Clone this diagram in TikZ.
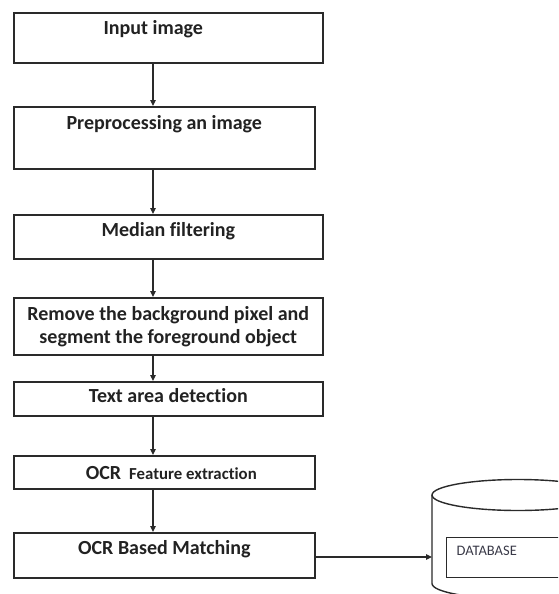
\documentclass[tikz,border=0pt]{standalone}
\usepackage{fontspec}
\setmainfont{Carlito}[Ligatures=NoCommon]
\usetikzlibrary{arrows.meta}
\definecolor{lc}{HTML}{2A2A2A}
\definecolor{tc}{HTML}{222222}
\definecolor{dbt}{HTML}{3A3A48}

\begin{document}
\begin{tikzpicture}[x=1pt,y=-1pt,
	stepbox/.style={draw=lc, line width=1.6pt, anchor=north west, inner xsep=0pt, inner ysep=0pt,
		text=tc, font=\fontsize{20}{24}\selectfont\bfseries},
	flow/.style={draw=lc, line width=1.2pt, -{Triangle[length=6pt,width=5.5pt]}}]
		\useasboundingbox (0,0) rectangle (558,594);
		\clip (0,0) rectangle (558,594);
		\coordinate (spine) at (153,0);
		% steps
		\node[stepbox, minimum width=309pt, text height=21.5pt, text depth=28.5pt] (b1) at (13,12) {Input image\hspace*{30pt}};
		\node[stepbox, minimum width=301pt, text height=22.5pt, text depth=39.5pt] (b2) at (13,106) {Preprocessing an image};
		\node[stepbox, minimum width=309pt, text height=21.5pt, text depth=22.5pt] (b3) at (13,214) {Median filtering};
		\node[stepbox, minimum width=309pt, minimum height=57pt, align=center, font=\fontsize{20}{23}\selectfont\bfseries] (b4) at (13,297) {Remove the background pixel and\\segment the foreground object};
		\node[stepbox, minimum width=309pt, text height=20.5pt, text depth=13.5pt] (b5) at (13,381) {Text area detection};
		\node[stepbox, minimum width=301pt, text height=23.5pt, text depth=9.5pt] (b6) at (13,455) {\hspace*{14pt}OCR\hspace{8pt}{\fontsize{16.8}{19}\selectfont Feature extraction}};
		\node[stepbox, minimum width=301pt, text height=21.5pt, text depth=23.5pt] (b7) at (13,532) {OCR Based Matching};
		% database
		\draw[lc, line width=1.4pt] (432,495) -- (432,583.5)
		arc[start angle=180, end angle=0, x radius=86, y radius=15.5] -- (604,495);
		\draw[lc, line width=1.4pt] (518,495) ellipse [x radius=86, y radius=15.5];
		\coordinate (dbin) at (432,557);
		\node[draw=lc, line width=1.3pt, anchor=north west, inner xsep=10pt, inner ysep=0pt, text width=124pt, align=left,
		text height=18pt, text depth=22pt, text=dbt, font=\fontsize{14.5}{16}\selectfont] (dbbox) at (446,537) {DATABASE};
		% arrows
		\foreach \a/\b in {b1/b2, b2/b3, b3/b4, b4/b5, b5/b6, b6/b7}
		\draw[flow] (\a.south -| spine) -- (\b.north -| spine);
		\draw[flow] (b7.east |- dbin) -- (dbin);
		\end{tikzpicture}
\end{document}
